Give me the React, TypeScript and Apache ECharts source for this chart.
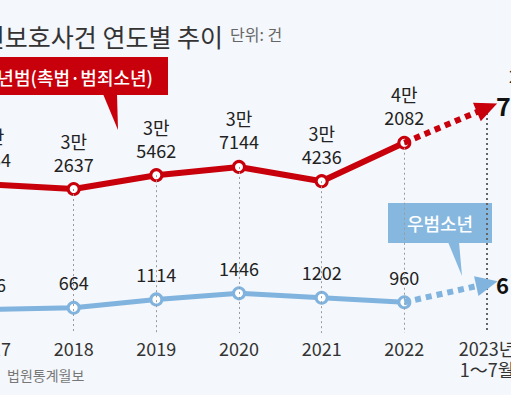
import React, { useEffect, useRef } from 'react';
import * as echarts from 'echarts';

const categories = ['2017', '2018', '2019', '2020', '2021', '2022', '2023년\n1～7월'];
// 소년범(촉법·범죄소년)
const offenderValues = [33534, 32637, 35462, 37144, 34236, 42082];
// 우범소년
const riskValues = [566, 664, 1114, 1446, 1202, 960];
// trend arrows toward 2023 (1~7월): [category position, value] of the arrowhead centre
const offenderTrendEnd = [5.896, 49230];
const riskTrendEnd = [5.887, 1968];
const guideTop2023 = 49170;
const offenderAxis = [3250, 58970];
const riskAxis = [-711, 14126];

const FONT = '"Noto Sans CJK KR", "Noto Sans", sans-serif';
const RED = '#c8000b';
const BLUE = '#80b3de';
const BLUE_BOX = '#86b7df';

export default function App() {
  const ref = useRef<HTMLDivElement>(null);
  useEffect(() => {
    if (!ref.current) return;
    const chart = echarts.init(ref.current, null, { renderer: 'svg' });
    const last = offenderValues.length - 1;
    const option: any = {
      animation: false,
      backgroundColor: '#f4f7fb',
      textStyle: { fontFamily: FONT },
      grid: { left: -9, right: 24, top: 60, bottom: 62, outerBoundsMode: 'none', containLabel: false },
      xAxis: {
        type: 'category',
        data: categories,
        boundaryGap: false,
        axisLine: { show: false },
        axisTick: { show: false },
        axisLabel: { color: '#333', fontSize: 18, lineHeight: 21, margin: 4, fontFamily: FONT, interval: 0 },
        splitLine: { show: false },
      },
      yAxis: [
        { type: 'value', min: offenderAxis[0], max: offenderAxis[1], show: false, splitLine: { show: false } },
        { type: 'value', min: riskAxis[0], max: riskAxis[1], show: false, splitLine: { show: false } },
      ],
      series: [
        {
          name: 'guides',
          type: 'line',
          yAxisIndex: 0,
          data: offenderValues,
          symbol: 'none',
          lineStyle: { opacity: 0 },
          silent: true,
          z: 1,
          markLine: {
            silent: true,
            symbol: ['none', 'none'],
            label: { show: false },
            lineStyle: { color: '#9a9a9a', width: 1, type: [2, 3] },
            data: offenderValues.map((v, i) => [
              { coord: [i, v] },
              { coord: [i, offenderAxis[0]] },
            ]),
          },
        },
        {
          name: 'guide2023',
          type: 'line',
          yAxisIndex: 0,
          data: [],
          symbol: 'none',
          silent: true,
          z: 1,
          markLine: {
            silent: true,
            symbol: ['none', 'none'],
            label: { show: false },
            lineStyle: { color: '#666', width: 2, type: [2, 3] },
            data: [[{ coord: [categories.length - 1, guideTop2023] }, { coord: [categories.length - 1, offenderAxis[0]] }]],
          },
        },
        {
          name: 'offenderTrend',
          type: 'line',
          yAxisIndex: 0,
          data: [],
          symbol: 'none',
          silent: true,
          z: 2,
          markLine: {
            silent: true,
            symbol: ['none', 'triangle'],
            symbolSize: [20, 22],
            label: { show: false },
            lineStyle: { color: RED, width: 6, type: [6, 5] },
            data: [[{ coord: [last, offenderValues[last]] }, { coord: offenderTrendEnd }]],
          },
        },
        {
          name: 'riskTrend',
          type: 'line',
          yAxisIndex: 1,
          data: [],
          symbol: 'none',
          silent: true,
          z: 2,
          markLine: {
            silent: true,
            symbol: ['none', 'triangle'],
            symbolSize: [20, 22],
            label: { show: false },
            lineStyle: { color: BLUE, width: 6, type: [6, 5] },
            data: [[{ coord: [last, riskValues[last]] }, { coord: riskTrendEnd }]],
          },
        },
        {
          name: '소년범(촉법·범죄소년)',
          type: 'line',
          yAxisIndex: 0,
          data: offenderValues,
          z: 3,
          symbol: 'circle',
          symbolSize: 11,
          showAllSymbol: true,
          lineStyle: { color: RED, width: 6 },
          itemStyle: { color: '#fff', borderColor: RED, borderWidth: 3 },
          label: {
            show: true,
            position: 'top',
            distance: 7,
            color: '#222',
            fontSize: 18,
            lineHeight: 23,
            fontFamily: FONT,
            formatter: (p: any) => `${Math.floor(p.value / 10000)}만\n${p.value % 10000}`,
          },
        },
        {
          name: '우범소년',
          type: 'line',
          yAxisIndex: 1,
          data: riskValues,
          z: 3,
          symbol: 'circle',
          symbolSize: 11,
          showAllSymbol: true,
          lineStyle: { color: BLUE, width: 5 },
          itemStyle: { color: '#fff', borderColor: BLUE, borderWidth: 3 },
          label: {
            show: true,
            position: 'top',
            distance: 7,
            color: '#222',
            fontSize: 18,
            lineHeight: 23,
            fontFamily: FONT,
            formatter: '{c}',
          },
        },
      ],
      graphic: [
        {
          type: 'text',
          x: 223,
          y: 36,
          style: { text: '소년보호사건 연도별 추이', fontSize: 25, fill: '#333', fontFamily: FONT, align: 'right', verticalAlign: 'middle' },
        },
        {
          type: 'text',
          x: 230,
          y: 34,
          style: { text: '단위: 건', fontSize: 16, fill: '#666', fontFamily: FONT, verticalAlign: 'middle' },
        },
        {
          type: 'rect',
          shape: { x: -10, y: 57, width: 178, height: 38 },
          style: { fill: RED },
        },
        {
          type: 'polygon',
          shape: { points: [[103, 94], [117, 94], [118, 130]] },
          style: { fill: RED },
        },
        {
          type: 'text',
          x: 153,
          y: 77,
          style: {
            text: '소년범(촉법·범죄소년)',
            fontSize: 18,
            fill: '#fff',
            fontFamily: FONT,
            fontWeight: 500,
            align: 'right',
            verticalAlign: 'middle',
          },
        },
        {
          type: 'rect',
          shape: { x: 388, y: 203, width: 104, height: 40 },
          style: { fill: BLUE_BOX },
        },
        {
          type: 'polygon',
          shape: { points: [[448, 242], [459, 242], [462, 276]] },
          style: { fill: BLUE_BOX },
        },
        {
          type: 'text',
          x: 440,
          y: 223,
          style: {
            text: '우범소년',
            fontSize: 18,
            fill: '#fff',
            fontFamily: FONT,
            fontWeight: 500,
            align: 'center',
            verticalAlign: 'middle',
          },
        },
        {
          type: 'text',
          x: 509,
          y: 75,
          style: { text: '2만', fontSize: 17, fill: '#222', fontFamily: FONT, verticalAlign: 'middle' },
        },
        {
          type: 'text',
          x: 496,
          y: 105,
          style: { text: '7', fontSize: 25, fontWeight: 'bold', fill: '#111', fontFamily: FONT, verticalAlign: 'middle' },
        },
        {
          type: 'text',
          x: 496,
          y: 284,
          style: { text: '6', fontSize: 22, fontWeight: 'bold', fill: '#111', fontFamily: FONT, verticalAlign: 'middle' },
        },
        {
          type: 'text',
          x: 7,
          y: 375,
          style: { text: '법원통계월보', fontSize: 14, fill: '#777', fontFamily: FONT, verticalAlign: 'middle' },
        },
      ],
    };
    chart.setOption(option);
    return () => chart.dispose();
  }, []);
  return (
    <div
      ref={ref}
      style={{ position: 'fixed', left: 0, top: 0, width: 511, height: 395 }}
    />
  );
}
